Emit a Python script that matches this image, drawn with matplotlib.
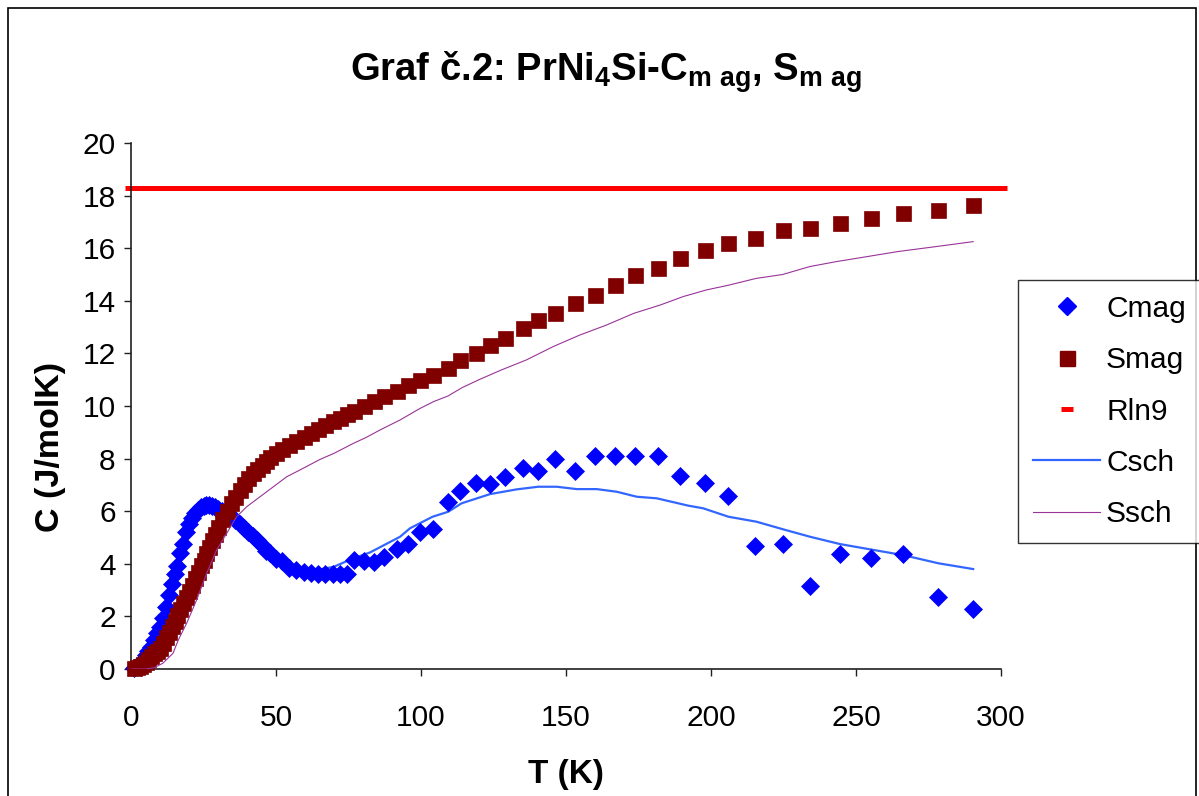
import matplotlib
matplotlib.use("Agg")
import matplotlib.pyplot as plt
from matplotlib.lines import Line2D
from matplotlib.patches import Rectangle

plt.rcParams['font.family'] = ['Liberation Sans', 'DejaVu Sans']
plt.rcParams['mathtext.fontset'] = 'custom'
plt.rcParams['mathtext.rm'] = 'Liberation Sans:bold'
plt.rcParams['mathtext.bf'] = 'Liberation Sans:bold'
plt.rcParams['mathtext.it'] = 'Liberation Sans:bold'

# ---------------- data ----------------
# measured temperature points (shared by Cmag and Smag)
T_meas = [1, 2, 3, 4, 5, 6, 7, 8, 9, 10, 11, 12, 13, 14, 15, 16, 17, 18, 19, 20,
          21, 22, 23, 24, 25, 26, 27, 28, 29, 30, 31.5, 33, 34.5, 36, 37.5, 39,
          40.5, 42, 43.5, 45, 46.5, 48, 50, 52, 54.5, 57, 59.5, 62, 64.5, 67,
          69.5, 72, 74.5,
          77, 80.4, 83.9, 87.4, 91.8,
          95.5, 99.5, 104, 109.2, 113.5, 118.8, 123.9, 129, 135, 140.2, 146.3,
          153.1, 160, 166.8, 173.9, 181.6, 189.4, 198, 205.8, 215.3, 224.7,
          234.3, 244.6, 255, 266.1, 278.2, 290.3]

Cmag = [0.05, 0.1, 0.2, 0.35, 0.55, 0.7, 0.85, 1.1, 1.35, 1.6, 1.95, 2.35, 2.8,
        3.25, 3.6, 3.9, 4.4, 4.75, 5.2, 5.5, 5.75, 5.95, 6.05, 6.15, 6.2, 6.22,
        6.22, 6.2, 6.15, 6.1, 6.0, 5.95, 5.8, 5.65, 5.5, 5.35, 5.2, 5.05, 4.9,
        4.7, 4.5, 4.4, 4.2, 4.1, 3.85, 3.75, 3.7, 3.65, 3.62, 3.62, 3.62, 3.6,
        3.6,
        4.14, 4.1, 4.08, 4.27, 4.55,
        4.75, 5.22, 5.32, 6.36, 6.77, 7.06, 7.03, 7.31, 7.63, 7.53, 7.98, 7.53,
        8.10, 8.10, 8.10, 8.10, 7.34, 7.06, 6.58, 4.68, 4.75, 3.16, 4.37, 4.21,
        4.37, 2.75, 2.28]

Smag = [0.05, 0.08, 0.12, 0.18, 0.27, 0.38, 0.5, 0.6, 0.7, 0.8, 1.0, 1.2, 1.42,
        1.62, 1.83, 2.05, 2.27, 2.5, 2.73, 2.95, 3.2, 3.45, 3.7, 3.95, 4.15, 4.4,
        4.65, 4.9, 5.15, 5.4, 5.7, 6.0, 6.3, 6.55, 6.8, 7.05, 7.25, 7.45, 7.6,
        7.75, 7.9, 8.05, 8.2, 8.35, 8.52, 8.68, 8.82, 8.97, 9.12, 9.28, 9.42,
        9.55, 9.7,
        9.82, 10.01, 10.2, 10.39, 10.58,
        10.8, 10.99, 11.18, 11.46, 11.74, 12.03, 12.32, 12.60, 12.98, 13.26,
        13.55, 13.93, 14.21, 14.59, 14.97, 15.26, 15.64, 15.92, 16.21, 16.40,
        16.68, 16.78, 16.97, 17.16, 17.35, 17.44, 17.63]

T_rln9 = [0, 300]
Rln9 = [18.27, 18.27]

T_csch = [0, 5, 10, 15, 20, 25, 30, 35, 40, 45, 50, 55, 60, 65, 70, 76.7, 82.4,
          92.8, 96.2, 104, 109.4, 114, 123.8, 133, 140.4, 146.8, 153.7, 160.6,
          167.5, 174.4, 181.3, 192.2, 197.3, 206, 215.7, 224.9, 234.1, 244.5,
          254.8, 266.3, 278.4, 290.4]
Csch = [0, 0.5, 1.5, 3.4, 5.3, 6.05, 5.95, 5.6, 5.1, 4.6, 4.2, 3.9, 3.75, 3.78,
        3.89, 4.21, 4.43, 5.03, 5.35, 5.79, 5.98, 6.30, 6.65, 6.83, 6.93, 6.93,
        6.84, 6.84, 6.74, 6.55, 6.49, 6.21, 6.11, 5.79, 5.60, 5.31, 5.03, 4.75,
        4.55, 4.33, 4.02, 3.80]

T_ssch = [0, 5, 8, 11, 14.5, 16.3, 19.2, 22.6, 26.1, 29.5, 33, 36.4, 39.9, 44.5,
          49.1, 53.7, 58.3, 65.2, 70, 76.7, 81, 85.9, 92.8, 99.7, 104.4, 109.3,
          114.2, 120.4, 127.7, 136.3, 145.6, 154.8, 164, 173.3, 182.5, 190.4,
          198.3, 206.3, 215.5, 224.7, 234, 243.2, 253.8, 264.3, 277.5, 290.4]
Ssch = [0, 0, 0.05, 0.22, 0.6, 1.1, 1.74, 2.62, 3.64, 4.52, 5.16, 5.79, 6.17,
        6.55, 6.93, 7.31, 7.57, 7.97, 8.2, 8.58, 8.8, 9.09, 9.47, 9.91, 10.17,
        10.38, 10.7, 11.02, 11.37, 11.75, 12.26, 12.70, 13.08, 13.52, 13.84,
        14.16, 14.41, 14.6, 14.85, 15.0, 15.3, 15.49, 15.68, 15.87, 16.06, 16.25]

x_ticks = [0, 50, 100, 150, 200, 250, 300]
y_ticks = [0, 2, 4, 6, 8, 10, 12, 14, 16, 18, 20]

title = r"Graf č.2: PrNi$_{4}$Si-C$_{m\ ag}$, S$_{m\ ag}$"
xlabel = "T (K)"
ylabel = "C (J/molK)"

# ---------------- figure ----------------
W, H = 1199, 796
fig = plt.figure(figsize=(W / 100, H / 100), dpi=100)
fig.patch.set_facecolor('white')

def fx(px):
    return px / W

def fy(py):
    return 1 - py / H

ax = fig.add_axes([fx(131), fy(669), fx(1001) - fx(131), fy(143) - fy(669)])
ax.set_xlim(0, 300)
ax.set_ylim(0, 20)

c_mag_col = '#0000FF'
s_mag_col = '#800000'
rln_col = '#FF0000'
csch_col = '#3366FF'
ssch_col = '#993399'

d_ms = 9.2
s_ms = 10.8

ax.plot(T_rln9, Rln9, color=rln_col, lw=3.6, solid_capstyle='butt',
        marker='_', markersize=9, mew=3.6, clip_on=False, zorder=2)
ax.plot(T_csch, Csch, color=csch_col, lw=1.6, zorder=2.5)
ax.plot(T_meas, Cmag, linestyle='None', marker='D', markersize=d_ms,
        color=c_mag_col, mec=c_mag_col, mew=0.5, clip_on=False, zorder=3)
ax.plot(T_meas, Smag, linestyle='None', marker='s', markersize=s_ms,
        color=s_mag_col, mec=s_mag_col, mew=0.5, clip_on=False, zorder=3)
ax.plot(T_ssch, Ssch, color=ssch_col, lw=0.8, zorder=4)

ax.set_xticks(x_ticks)
ax.set_yticks(y_ticks)
ax.tick_params(axis='both', direction='out', length=5, width=1.0,
               color='#202020', labelsize=21.5)
ax.tick_params(axis='x', pad=20)
ax.tick_params(axis='y', pad=6)
for s in ['top', 'right']:
    ax.spines[s].set_visible(False)
for s in ['left', 'bottom']:
    ax.spines[s].set_color('#202020')
    ax.spines[s].set_linewidth(1.2)

ax.set_xlabel(xlabel, fontsize=24, fontweight='bold')
ax.set_ylabel(ylabel, fontsize=24.5, fontweight='bold')
ax.xaxis.set_label_coords(0.5, (669 - 775) / 526, transform=ax.transAxes)
ax.yaxis.set_label_coords((50 - 131) / 870, (669 - 447) / 526,
                          transform=ax.transAxes)
ax.xaxis.label.set_va('center')
ax.yaxis.label.set_va('center')

fig.text(fx(606), fy(72), title, fontsize=27.5, fontweight='bold',
         ha='center', va='center')

# legend
handles = [
    Line2D([], [], linestyle='None', marker='D', markersize=d_ms, color=c_mag_col),
    Line2D([], [], linestyle='None', marker='s', markersize=s_ms, color=s_mag_col),
    Line2D([], [], linestyle='None', marker='_', markersize=9, mew=3.6, color=rln_col),
    Line2D([], [], color=csch_col, lw=1.6),
    Line2D([], [], color=ssch_col, lw=0.8),
]
labels = ['Cmag', 'Smag', 'Rln9', 'Csch', 'Ssch']
leg = fig.legend(handles, labels, loc='upper left',
                 bbox_to_anchor=(fx(1018), fy(280)), frameon=True,
                 fancybox=False, edgecolor='black', fontsize=21.5,
                 handlelength=2.25, handletextpad=0.2, borderpad=0.5,
                 labelspacing=0.78, borderaxespad=0)
leg.get_frame().set_linewidth(1.0)

# outer chart border
fig.add_artist(Rectangle((fx(8), -0.05), fx(1196) - fx(8), fy(8) + 0.05,
                         transform=fig.transFigure, fill=False,
                         edgecolor='black', lw=1.2, clip_on=False))

fig.savefig('out.png', dpi=100, facecolor='white')
